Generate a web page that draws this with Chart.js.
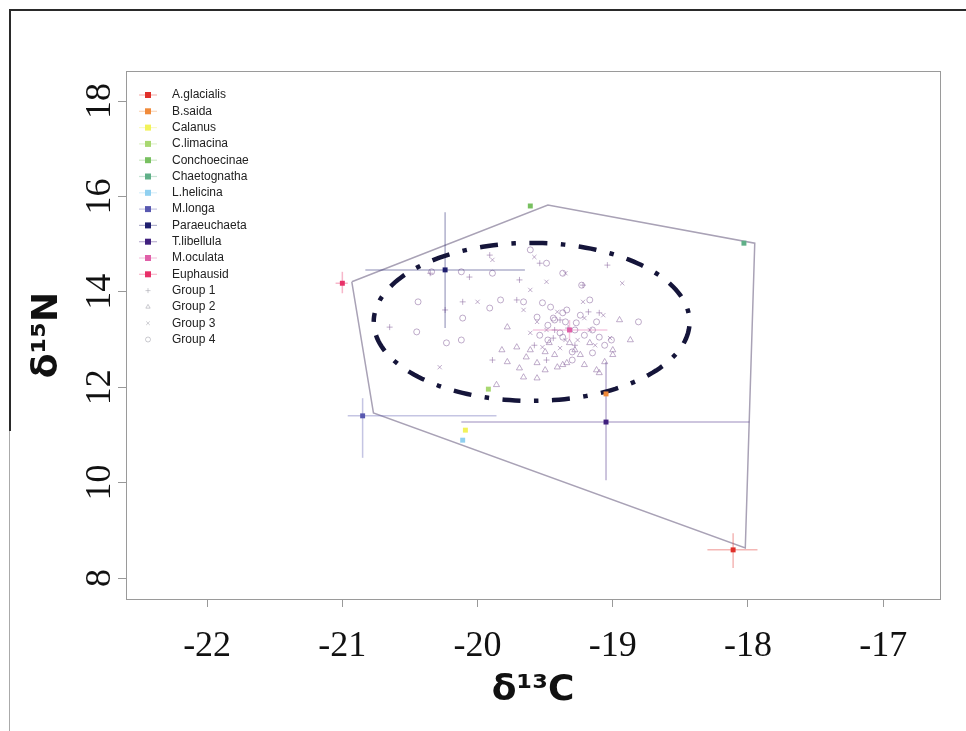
<!DOCTYPE html>
<html><head><meta charset="utf-8">
<script src="https://cdn.jsdelivr.net/npm/chart.js@4.4.1/dist/chart.umd.min.js"></script>
<style>
html,body{margin:0;padding:0;background:#fff;}
#wrap{position:relative;width:966px;height:731px;overflow:hidden;background:#fff;}
#c{position:absolute;left:0;top:0;}
.fr{position:absolute;}
</style></head>
<body>
<div id="wrap">
<canvas id="c" width="966" height="731"></canvas>
<div class="fr" style="left:9px;top:9px;width:957px;border-top:2px solid #2a2a2a;"></div>
<div class="fr" style="left:9px;top:9px;height:422px;border-left:2px solid #2a2a2a;"></div>
<div class="fr" style="left:9px;top:431px;height:300px;border-left:1px solid #aaa;"></div>
</div>
<script>
// ---------- data ----------
const species = ['A.glacialis','B.saida','Calanus','C.limacina','Conchoecinae','Chaetognatha','L.helicina','M.longa','Paraeuchaeta','T.libellula','M.oculata','Euphausid'];
const speciesColors = ['#e0302a','#f08a3a','#f2f25a','#a8d870','#78c060','#60b088','#90d0f0','#5858b0','#1e1e6e','#40207e','#e060a8','#e83068'];
const meanC = [-18.11,-19.05,-20.09,-19.92,-19.61,-18.03,-20.11,-20.85,-20.24,-19.05,-19.32,-21.00];
const meanN = [8.59,11.86,11.10,11.96,15.80,15.02,10.89,11.40,14.46,11.27,13.20,14.18];
const cLow  = [-18.30,-19.05,-20.09,-19.92,-19.61,-18.03,-20.11,-20.96,-20.83,-20.12,-19.59,-21.05];
const cHigh = [-17.93,-19.05,-20.09,-19.92,-19.61,-18.03,-20.11,-19.86,-19.65,-17.99,-19.04,-20.96];
const nLow  = [8.21,11.86,11.10,11.96,15.80,15.02,10.89,10.52,13.24,10.05,12.99,13.97];
const nHigh = [8.94,11.86,11.10,11.96,15.80,15.02,10.89,11.77,15.67,12.53,13.41,14.42];

const groupNames = ['Group 1','Group 2','Group 3','Group 4'];
const group1C = [-19.91,-19.54,-20.06,-19.69,-19.22,-20.11,-19.71,-19.39,-19.10,-19.49,-20.24,-19.04,-20.35,-20.65,-19.89,-19.28,-19.43,-19.33,-19.18,-19.44,-19.58];
const group1N = [14.77,14.60,14.31,14.25,14.14,13.79,13.83,13.41,13.56,12.57,13.62,14.56,14.39,13.26,12.57,12.88,13.20,13.24,13.58,13.03,12.88];
const group2C = [-19.78,-19.82,-19.61,-19.71,-19.66,-19.56,-19.86,-19.56,-19.78,-19.10,-19.00,-19.00,-19.32,-19.17,-19.47,-19.37,-19.64,-19.34,-19.12,-18.95,-18.87,-19.41,-19.50,-19.24,-19.50,-19.21,-19.43,-19.28,-19.69,-19.06];
const group2N = [13.26,12.78,12.78,12.84,12.21,12.19,12.05,12.51,12.53,12.30,12.78,12.68,12.93,12.93,12.93,12.47,12.63,12.51,12.36,13.41,12.99,12.42,12.74,12.68,12.36,12.47,12.68,12.78,12.40,12.53];
const group3C = [-19.89,-19.58,-19.49,-19.61,-19.66,-19.56,-19.22,-19.07,-19.49,-19.17,-19.02,-20.00,-20.28,-18.93,-19.35,-19.52,-19.35,-19.21,-19.41,-19.26,-19.39,-19.13,-19.61];
const group3N = [14.67,14.73,14.21,14.04,13.62,13.37,13.79,13.51,13.20,13.20,13.03,13.79,12.42,14.18,14.39,12.84,12.99,13.45,13.58,12.99,12.82,12.88,13.14];
const group4C = [-19.61,-20.34,-20.12,-19.89,-20.44,-19.83,-19.91,-19.56,-20.45,-20.23,-20.12,-19.37,-19.52,-19.46,-19.34,-19.17,-18.81,-19.39,-19.10,-19.30,-19.15,-19.49,-19.37,-19.23,-19.66,-19.37,-19.27,-19.15,-19.01,-20.11,-19.43,-19.28,-19.48,-19.44,-19.35,-19.24,-19.21,-19.12,-19.48,-19.30,-19.54,-19.06];
const group4N = [14.88,14.42,14.42,14.39,13.79,13.83,13.66,13.47,13.16,12.93,12.99,13.05,13.77,13.68,13.62,13.83,13.37,13.14,13.05,12.57,12.72,14.60,14.39,14.14,13.79,13.56,13.35,13.20,12.99,13.45,13.41,13.20,12.99,13.45,13.37,13.51,13.09,13.37,13.30,12.74,13.09,12.88];

const hullC = [-20.93,-19.48,-17.95,-18.02,-20.77,-20.93];
const hullN = [14.21,15.82,15.02,8.63,11.46,14.21];

const ellipseCenter = [-19.60, 13.37];
const ellipseRadii = [1.168, 1.656];

const xTicks = [-22,-21,-20,-19,-18,-17];
const yTicks = [8,10,12,14,16,18];
const xTitle = 'δ¹³C';
const yTitle = 'δ¹⁵N';

// ---------- build ----------
function pts(cs, ns){ return cs.map((c,i)=>({x:c, y:ns[i]})); }
function ellipsePts(){
  const out=[]; const n=180;
  for(let i=0;i<=n;i++){ const t=Math.PI - i/n*2*Math.PI;
    out.push({x:ellipseCenter[0]+ellipseRadii[0]*Math.cos(t), y:ellipseCenter[1]+ellipseRadii[1]*Math.sin(t)}); }
  return out;
}
function fade(hex, a){ const r=parseInt(hex.slice(1,3),16),g=parseInt(hex.slice(3,5),16),b=parseInt(hex.slice(5,7),16); return `rgba(${r},${g},${b},${a})`; }

const cloudColor = 'rgba(140,105,160,0.55)';
const groupStyles = ['cross','triangle','crossRot','circle'];
const groupData = [[group1C,group1N],[group2C,group2N],[group3C,group3N],[group4C,group4N]];

const datasets = [];
datasets.push({label:'species', data: pts(meanC, meanN), pointStyle:'rect', pointRadius:3.5,
  backgroundColor: speciesColors, borderWidth:0, order:0});
datasets.push({label:'ellipse', data: ellipsePts(), showLine:true, pointRadius:0, borderColor:'#15153a',
  borderWidth:4.5, borderDash:[18,13.5,4.5,13.5], borderDashOffset:9, borderCapStyle:'butt', fill:false, order:1});
species.forEach((s,i)=>{
  if (cHigh[i] !== cLow[i]) datasets.push({label:s+' sdC', data:[{x:cLow[i],y:meanN[i]},{x:cHigh[i],y:meanN[i]}],
    showLine:true, pointRadius:0, borderColor:fade(speciesColors[i],0.35), borderWidth:1.5, order:2});
  if (nHigh[i] !== nLow[i]) datasets.push({label:s+' sdN', data:[{x:meanC[i],y:nLow[i]},{x:meanC[i],y:nHigh[i]}],
    showLine:true, pointRadius:0, borderColor:fade(speciesColors[i],0.35), borderWidth:1.5, order:2});
});
datasets.push({label:'hull', data: pts(hullC, hullN), showLine:true, pointRadius:0, borderColor:'#a9a2b6',
  borderWidth:1.5, fill:false, order:3});
groupNames.forEach((g,i)=>{
  datasets.push({label:g, data: pts(groupData[i][0], groupData[i][1]), pointStyle:groupStyles[i],
    pointRadius: i===1?3.5:3, borderColor:cloudColor, backgroundColor:'rgba(0,0,0,0)', borderWidth:1, order:4});
});

const boxPlugin = {
  id:'box',
  beforeDatasetsDraw(chart){
    const {ctx, chartArea:a} = chart;
    ctx.save(); ctx.strokeStyle='#9a9a9a'; ctx.lineWidth=1;
    ctx.strokeRect(a.left+0.5, a.top+0.5, a.right-a.left, a.bottom-a.top);
    ctx.restore();
  }
};

const legendPlugin = {
  id:'innerLegend',
  afterDatasetsDraw(chart){
    const ctx = chart.ctx;
    const x0 = 148, tx = 172, y0 = 95, dy = 16.3;
    ctx.save();
    ctx.font = '12px "Liberation Sans", Arial, sans-serif';
    ctx.textBaseline = 'middle'; ctx.textAlign='left';
    species.forEach((s,i)=>{
      const y = y0 + i*dy;
      ctx.strokeStyle = fade(speciesColors[i],0.35); ctx.lineWidth=1.2;
      ctx.beginPath(); ctx.moveTo(x0-9,y); ctx.lineTo(x0+9,y); ctx.stroke();
      ctx.fillStyle = speciesColors[i]; ctx.fillRect(x0-3,y-3,6,6);
      ctx.fillStyle = '#222'; ctx.fillText(s, tx, y);
    });
    groupNames.forEach((g,j)=>{
      const y = y0 + (species.length+j)*dy;
      ctx.save();
      ctx.strokeStyle='rgba(160,160,170,0.55)'; ctx.fillStyle='rgba(0,0,0,0)'; ctx.lineWidth=1;
      Chart.helpers.drawPoint(ctx, {pointStyle:groupStyles[j], radius:2.5, borderWidth:1}, x0, y);
      ctx.restore();
      ctx.fillStyle = '#222'; ctx.fillText(g, tx, y);
    });
    ctx.restore();
  }
};

Chart.defaults.font.family = '"Liberation Serif", "Times New Roman", serif';
Chart.defaults.color = '#111';

new Chart(document.getElementById('c'), {
  type:'scatter',
  data:{datasets},
  options:{
    responsive:false, animation:false, devicePixelRatio:1,
    layout:{padding:{left:16,right:26,top:71,bottom:0}},
    plugins:{legend:{display:false}, tooltip:{enabled:false}},
    scales:{
      x:{type:'linear', min:-22.6, max:-16.58,
        afterBuildTicks(s){ s.ticks = xTicks.map(v=>({value:v})); },
        afterFit(s){ s.height = 132; },
        grid:{drawOnChartArea:false, drawTicks:true, tickLength:8, color:'#999'},
        border:{display:false},
        ticks:{font:{size:36, family:'"Liberation Serif", serif'}, color:'#111', padding:18, maxRotation:0,
          callback:v=>String(v)},
        title:{display:true, text:xTitle, font:{size:36, weight:'bold', family:'"DejaVu Sans", sans-serif'}, color:'#111',
          padding:{top:0,bottom:19}}
      },
      y:{type:'linear', min:7.56, max:18.63,
        afterBuildTicks(s){ s.ticks = yTicks.map(v=>({value:v})); },
        afterFit(s){ s.width = 110; },
        grid:{drawOnChartArea:false, drawTicks:true, tickLength:8, color:'#999'},
        border:{display:false},
        ticks:{font:{size:36, family:'"Liberation Serif", serif'}, color:'#111', padding:-1, minRotation:90, maxRotation:90,
          crossAlign:'center', callback:v=>String(v)},
        title:{display:true, text:yTitle, font:{size:36, weight:'bold', family:'"DejaVu Sans", sans-serif'}, color:'#111',
          padding:{top:10,bottom:0}}
      }
    }
  },
  plugins:[boxPlugin, legendPlugin]
});
</script>
</body></html>
